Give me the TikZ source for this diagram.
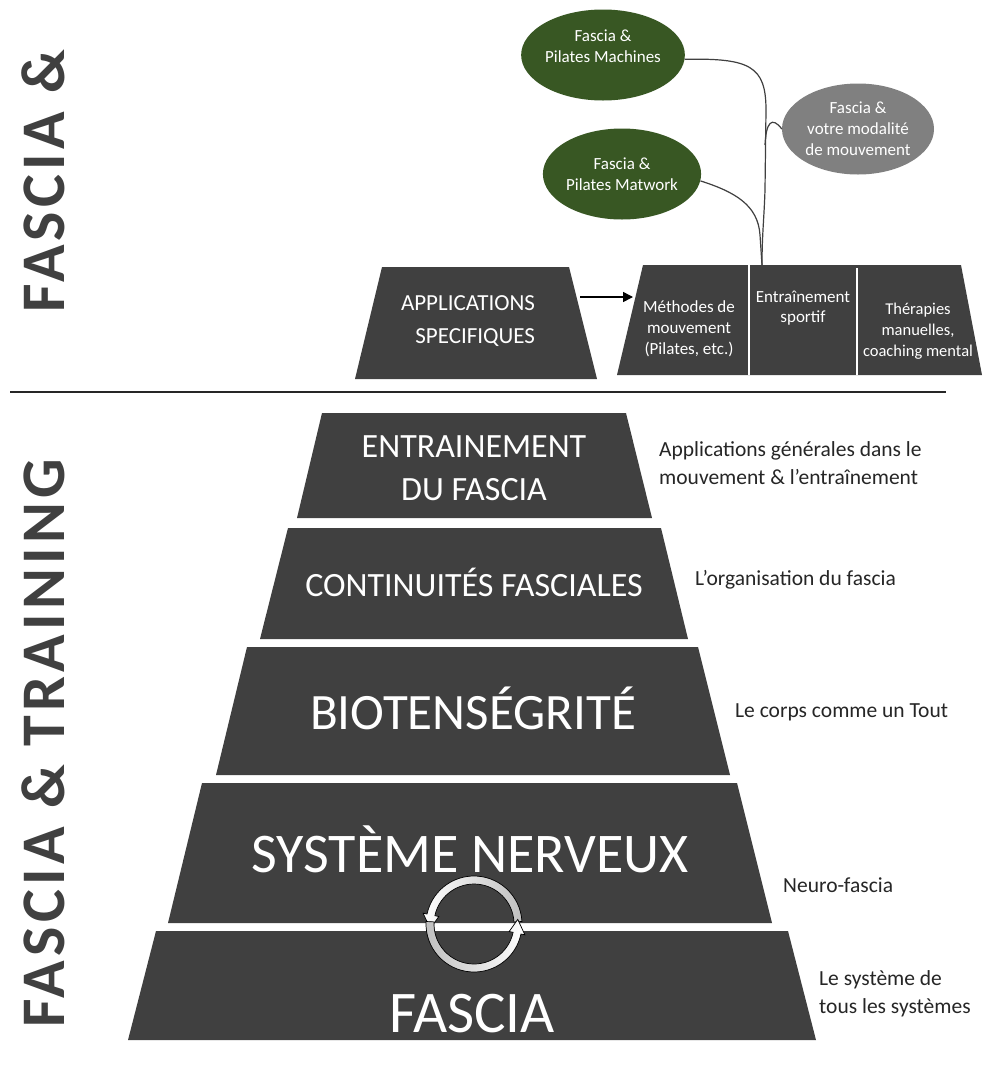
\documentclass[tikz,border=0pt]{standalone}
\usepackage{fontspec}
\setmainfont{Carlito}
\usetikzlibrary{arrows.meta,shapes.geometric}
\definecolor{pyr}{HTML}{404040}
\definecolor{leaf}{HTML}{385723}
\definecolor{grayleaf}{HTML}{808080}
\definecolor{txt}{HTML}{262626}
\newcommand\myfs[2]{\fontsize{#1}{#2}\selectfont}
\tikzset{
  pyrtxt/.style={text=white, align=center, inner sep=0pt},
  lbl/.style={text=txt, anchor=west, align=left, inner sep=0pt, font=\myfs{21.5}{28}},
  leafnode/.style={ellipse, fill=leaf, text=white, minimum width=152pt, minimum height=91pt, inner sep=0pt, align=center, font=\myfs{17}{21}},
  sidetxt/.style={rotate=90, text=pyr, inner sep=0pt, font=\myfs{62}{64}\bfseries\addfontfeatures{LetterSpace=7}},
  treeline/.style={draw=pyr, line width=1.2pt},
  cyc/.style={draw=black, line width=0.7pt}
}
\begin{document}
\begin{tikzpicture}[x=1pt,y=-1pt]
\useasboundingbox[fill=white] (0,0) rectangle (986,1066);

% side titles
\node[sidetxt] (t1) at (43,181) {FASCIA \&};
\node[sidetxt] (t2) at (43,743) {FASCIA \& TRAINING};

% separator
\draw[txt, line width=1.5pt] (10,392) -- (946,392);

% pyramid
\fill[pyr] (322,413) -- (626,413) -- (652,518) -- (297,518) -- cycle;
\fill[pyr] (288,528) -- (661,528) -- (688,639) -- (260,639) -- cycle;
\fill[pyr] (247,647) -- (698,647) -- (730,775) -- (216,775) -- cycle;
\fill[pyr] (202,783) -- (737,783) -- (772,923) -- (168,923) -- cycle;
\fill[pyr] (156,931) -- (788,931) -- (816,1040) -- (128,1040) -- cycle;

\node[pyrtxt, font=\myfs{34}{43}] (p1) at (474,468) {ENTRAINEMENT\\DU FASCIA};
\node[pyrtxt, font=\myfs{34}{40}] (p2) at (474,582) {CONTINUITÉS FASCIALES};
\node[pyrtxt, font=\myfs{51}{55}] (p3) at (473,708) {BIOTENSÉGRITÉ};
\node[pyrtxt, font=\myfs{56}{60}] (p4) at (470,849) {SYSTÈME NERVEUX};
\node[pyrtxt, font=\myfs{59}{62}] (p5) at (472,1014) {FASCIA};

% right labels
\node[lbl] (l1) at (659,463) {Applications générales dans le\\mouvement \& l’entraînement};
\node[lbl] (l2) at (695,580) {L’organisation du fascia};
\node[lbl] (l3) at (735,712) {Le corps comme un Tout};
\node[lbl] (l4) at (783,885) {Neuro-fascia};
\node[lbl] (l5) at (819,994) {Le système de\\tous les systèmes};

% cycle arrows
\begin{scope}[shift={(474,924)}]
\filldraw[cyc, left color=white, right color=black!25]
  (-3:48) arc[start angle=-3, end angle=-168, radius=48] -- (-168:52) -- (-186:44) -- (-168:36) -- (-168:40)
  arc[start angle=-168, end angle=-3, radius=40] -- cycle;
\filldraw[cyc, left color=black!25, right color=white]
  (183:48) arc[start angle=183, end angle=12, radius=48] -- (12:52) -- (-6:44) -- (12:36) -- (12:40)
  arc[start angle=12, end angle=183, radius=40] -- cycle;
\end{scope}

% top: applications
\fill[pyr] (382,267) -- (569,267) -- (597,379) -- (355,379) -- cycle;
\node[pyrtxt, align=right, font=\myfs{23}{33}] (app) at (468,321) {APPLICATIONS\\SPECIFIQUES};

\fill[pyr] (643,265) -- (961,265) -- (982,375) -- (617,375) -- cycle;
\draw[white, line width=1.5pt] (749,265) -- (749,375);
\draw[white, line width=1.5pt] (857,268) -- (857,375);
\node[pyrtxt, font=\myfs{17}{21}] (m1) at (689,329) {Méthodes de\\mouvement\\(Pilates, etc.)};
\node[pyrtxt, font=\myfs{17}{20}] (m2) at (803,308) {Entraînement\\sportif};
\node[pyrtxt, font=\myfs{16.5}{21}] (m3) at (918,331) {Thérapies\\manuelles,\\coaching mental};

\coordinate (a1) at (580,297);
\coordinate (a2) at (633,297);
\draw[black, line width=1.5pt, -{Triangle[length=10pt,width=10pt]}] (a1) -- (a2);

% ellipses
\node[leafnode] (mach) at (603,55) {Fascia \&\\Pilates Machines\\[-10pt]\strut};
\node[leafnode] (mw) at (622,174) {Fascia \&\\Pilates Matwork};
\node[leafnode, fill=grayleaf] (gr) at (858,129) {Fascia \&\\votre modalité\\de mouvement};

% tree
\coordinate (tb) at (762,265);
\coordinate (hk) at (765,145);
\draw[treeline] (mw.-5) .. controls (735,192) and (758,205) .. (760,235) -- (tb);
\draw[treeline] (mach.-3) .. controls (750,58) and (766,66) .. (766,110) -- (765,190) .. controls (764,220) and (762,235) .. (tb);
\draw[treeline] (gr.west) .. controls (772,116) and (766,122) .. (hk);
\end{tikzpicture}
\end{document}
